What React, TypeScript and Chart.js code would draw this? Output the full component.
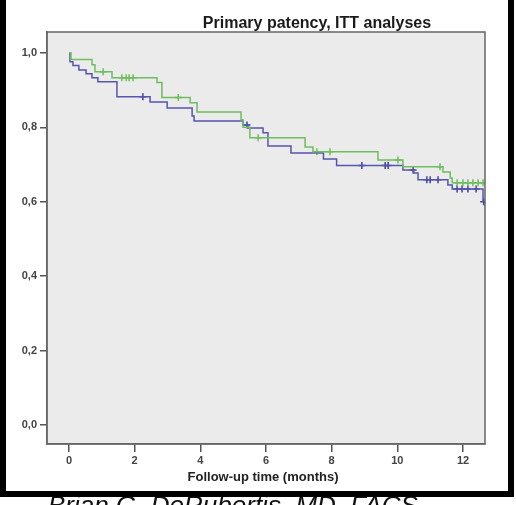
import React, { useEffect, useRef } from "react";
import { Chart, registerables } from "chart.js";

Chart.register(...registerables);

// Kaplan-Meier step data (time in months, survival after the step)
const greenTimes = [0, 0.06, 0.7, 0.79, 1.31, 2.68, 2.83, 3.69, 3.9, 5.24, 5.3, 5.51, 7.19, 7.43, 9.41, 10.17, 11.39, 11.61, 11.67, 12.67];
const greenSurv = [1.0, 0.982, 0.968, 0.949, 0.933, 0.92, 0.88, 0.866, 0.841, 0.82, 0.8, 0.772, 0.747, 0.734, 0.712, 0.694, 0.68, 0.664, 0.651, 0.651];
const greenCensorTimes = [1.04, 1.61, 1.74, 1.83, 1.95, 3.33, 5.76, 7.55, 7.95, 10.02, 11.3, 11.82, 12.0, 12.15, 12.3, 12.46, 12.61];
const greenCensorSurv = [0.949, 0.933, 0.933, 0.933, 0.933, 0.88, 0.772, 0.734, 0.734, 0.712, 0.694, 0.651, 0.651, 0.651, 0.651, 0.651, 0.651];

const blueTimes = [0, 0.03, 0.12, 0.3, 0.52, 0.7, 0.88, 1.46, 2.47, 2.99, 3.75, 3.81, 5.3, 5.45, 5.91, 6.06, 6.76, 7.75, 8.15, 10.17, 10.5, 10.63, 11.54, 11.67, 12.61];
const blueSurv = [1.0, 0.976, 0.966, 0.954, 0.944, 0.933, 0.922, 0.882, 0.868, 0.852, 0.83, 0.817, 0.806, 0.798, 0.785, 0.75, 0.731, 0.715, 0.697, 0.685, 0.677, 0.659, 0.645, 0.634, 0.6];
const blueCensorTimes = [2.25, 5.42, 8.92, 9.63, 9.72, 10.48, 10.9, 11.0, 11.24, 11.82, 11.97, 12.15, 12.4, 12.63];
const blueCensorSurv = [0.882, 0.806, 0.697, 0.697, 0.697, 0.685, 0.659, 0.659, 0.659, 0.634, 0.634, 0.634, 0.634, 0.6];

const xTicks = [0, 2, 4, 6, 8, 10, 12];
const yTicks = [0, 0.2, 0.4, 0.6, 0.8, 1.0];

const chartTitle = "Primary patency, ITT analyses";
const xTitle = "Follow-up time (months)";
const footerText = "Brian G. DeRubertis, MD, FACS";

const GREEN = "#6fbd5e";
const BLUE = "#5656ad";

const toPts = (xs: number[], ys: number[]) => xs.map((x, i) => ({ x, y: ys[i] }));

export default function App() {
  const ref = useRef<HTMLCanvasElement | null>(null);

  useEffect(() => {
    if (!ref.current) return;
    const decor = {
      id: "decor",
      beforeDraw(chart: any) {
        const { ctx, chartArea: a } = chart;
        ctx.save();
        ctx.fillStyle = "#ffffff";
        ctx.fillRect(0, 0, chart.width, chart.height);
        ctx.fillStyle = "#ebebeb";
        ctx.fillRect(a.left, a.top, a.right - a.left, a.bottom - a.top);
        ctx.restore();
      },
      afterDraw(chart: any) {
        const { ctx, chartArea: a } = chart;
        ctx.save();
        ctx.strokeStyle = "#666666";
        ctx.lineWidth = 1.5;
        ctx.strokeRect(a.left, a.top, a.right - a.left, a.bottom - a.top);

        ctx.fillStyle = "#1a1a1a";
        ctx.textAlign = "center";
        ctx.textBaseline = "alphabetic";
        ctx.font = "bold 16px 'Liberation Sans', Arial, sans-serif";
        ctx.fillText(chartTitle, 317, 28);

        ctx.fillStyle = "#222222";
        ctx.font = "bold 13px 'Liberation Sans', Arial, sans-serif";
        ctx.fillText(xTitle, 263, 481);

        // footer text, cut off by the page edge
        ctx.textAlign = "left";
        ctx.fillStyle = "#111111";
        ctx.font = "italic 24px 'Liberation Sans', Arial, sans-serif";
        const w = ctx.measureText(footerText).width;
        const size = 24 * 370 / w;
        ctx.font = `italic ${size}px 'Liberation Sans', Arial, sans-serif`;
        ctx.fillText(footerText, 48, 495 + size * 0.716);

        // black frame
        ctx.fillStyle = "#000000";
        ctx.fillRect(0, 0, 6, 497);
        ctx.fillRect(508, 0, 6, 497);
        ctx.fillRect(0, 491, 514, 6);
        ctx.restore();
      },
    };

    const chart = new Chart(ref.current, {
      type: "line",
      data: {
        datasets: [
          {
            data: toPts(greenTimes, greenSurv),
            borderColor: GREEN,
            borderWidth: 1.5,
            stepped: "before",
            pointRadius: 0,
            fill: false,
          },
          {
            data: toPts(blueTimes, blueSurv),
            borderColor: BLUE,
            borderWidth: 1.5,
            stepped: "before",
            pointRadius: 0,
            fill: false,
          },
          {
            type: "scatter",
            data: toPts(greenCensorTimes, greenCensorSurv),
            borderColor: GREEN,
            backgroundColor: GREEN,
            pointStyle: "cross",
            pointRadius: 3.5,
            borderWidth: 1.5,
            showLine: false,
          },
          {
            type: "scatter",
            data: toPts(blueCensorTimes, blueCensorSurv),
            borderColor: "#3f3f9e",
            backgroundColor: "#3f3f9e",
            pointStyle: "cross",
            pointRadius: 3.5,
            borderWidth: 1.5,
            showLine: false,
          },
        ] as any,
      },
      options: {
        animation: false,
        responsive: false,
        layout: { padding: { left: 0, top: 32, right: 31, bottom: 0 } },
        plugins: {
          legend: { display: false },
          title: { display: false },
          tooltip: { enabled: false },
        },
        scales: {
          x: {
            type: "linear",
            min: -0.67,
            max: 12.67,
            afterBuildTicks: (s: any) => {
              s.ticks = xTicks.map((v) => ({ value: v }));
            },
            afterFit: (s: any) => {
              s.height = 61;
            },
            ticks: {
              color: "#444444",
              font: { family: "'Liberation Sans', Arial, sans-serif", size: 11, weight: "bold" },
              padding: 2,
              maxRotation: 0,
              callback: (v: any) => String(v),
            },
            grid: { drawOnChartArea: false, drawTicks: true, tickLength: 8, color: "#555555", lineWidth: 1.5 },
            border: { display: true, color: "#666666", width: 1.5 },
          },
          y: {
            type: "linear",
            min: -0.051,
            max: 1.056,
            afterBuildTicks: (s: any) => {
              s.ticks = yTicks.map((v) => ({ value: v }));
            },
            afterFit: (s: any) => {
              s.width = 47;
            },
            ticks: {
              color: "#444444",
              font: { family: "'Liberation Sans', Arial, sans-serif", size: 11, weight: "bold" },
              padding: 3,
              callback: (v: any) => Number(v).toFixed(1).replace(".", ","),
            },
            grid: { drawOnChartArea: false, drawTicks: true, tickLength: 7, color: "#555555", lineWidth: 1.5 },
            border: { display: true, color: "#666666", width: 1.5 },
          },
        },
      } as any,
      plugins: [decor],
    });
    return () => chart.destroy();
  }, []);

  return (
    <div style={{ position: "absolute", left: 0, top: 0, width: 516, height: 505, background: "#fff" }}>
      <canvas ref={ref} width={516} height={505} style={{ display: "block" }} />
    </div>
  );
}
